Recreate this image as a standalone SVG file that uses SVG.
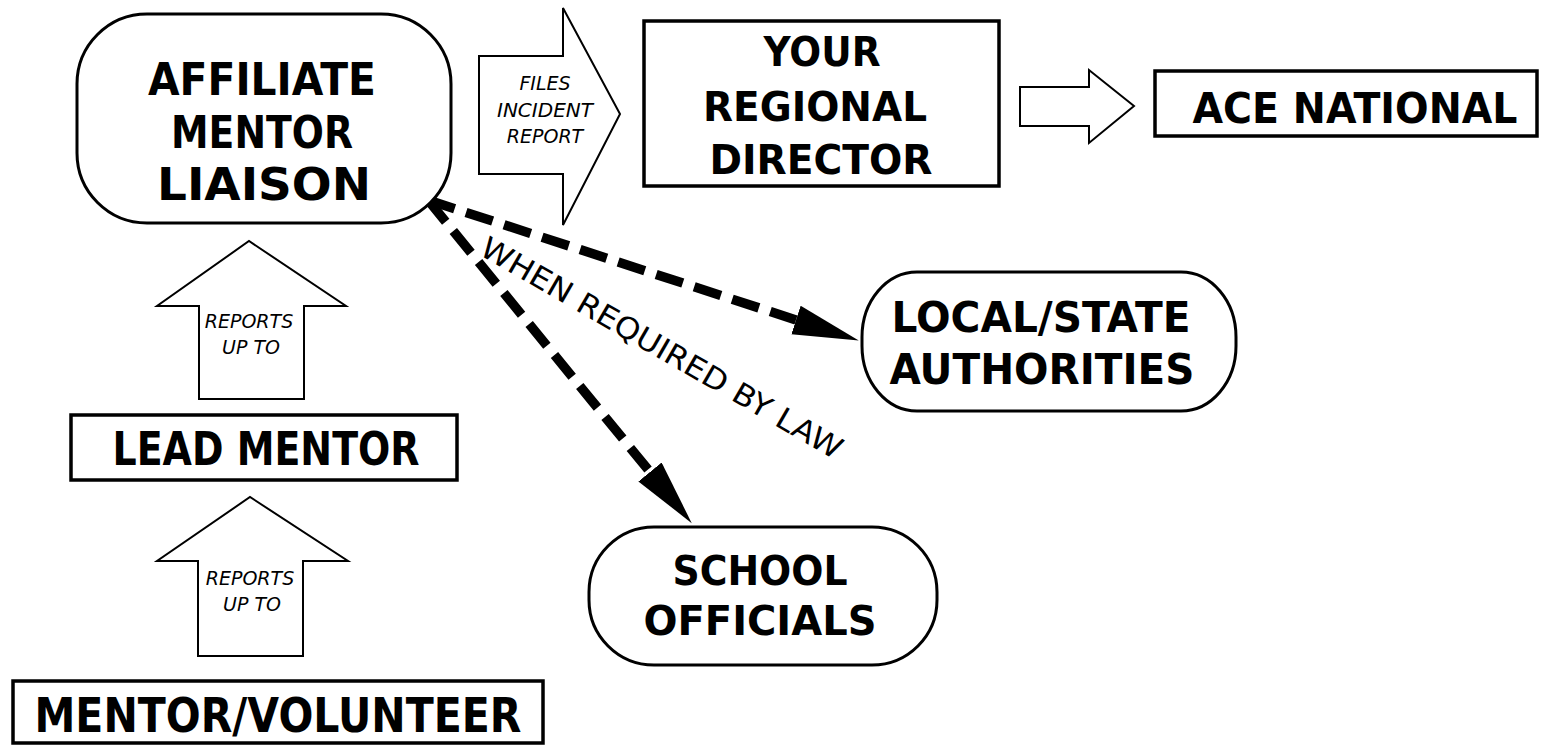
<svg xmlns="http://www.w3.org/2000/svg" width="1541" height="746" viewBox="0 0 1541 746">
<style>
.bg{fill:#fff}
.box{fill:#fff;stroke:#000;stroke-width:3.5}
.rbox{fill:#fff;stroke:#000;stroke-width:3}
.harrow{fill:#fff;stroke:#000;stroke-width:2;stroke-linejoin:miter}
.t{font-family:"DejaVu Sans","Liberation Sans",sans-serif;font-weight:bold;fill:#000;text-anchor:middle}
.it{font-family:"DejaVu Sans","Liberation Sans",sans-serif;font-style:italic;font-size:19px;fill:#000;text-anchor:middle}
.lbl{font-family:"DejaVu Sans","Liberation Sans",sans-serif;font-size:30px;fill:#000}
.dash{fill:none;stroke:#000;stroke-width:9.5;stroke-dasharray:28 12}
</style>
<defs>
<marker id="head" markerUnits="userSpaceOnUse" markerWidth="70" markerHeight="32" refX="0" refY="15" orient="auto">
<path d="M0,0 L66,15 L0,30 Z" fill="#000"/>
</marker>
</defs>
<rect class="bg" x="0" y="0" width="1541" height="746"/>

<g id="connectors">
<polygon id="arrow-files" class="harrow" points="479,56 563,56 563,8 620,114 563,225 563,174 479,174"/>
<text class="it" x="545" y="90">FILES</text>
<text class="it" x="545" y="117" textLength="96" lengthAdjust="spacingAndGlyphs">INCIDENT</text>
<text class="it" x="545" y="143">REPORT</text>
<polygon id="arrow-ace" class="harrow" points="1020,87 1089,87 1089,70 1134,106 1089,143 1089,126 1020,126"/>
<polygon id="arrow-up1" class="harrow" points="199,399 199,306 157,306 249,241 346,306 304,306 304,399"/>
<text class="it" x="249" y="328">REPORTS</text>
<text class="it" x="251" y="354">UP TO</text>
<polygon id="arrow-up2" class="harrow" points="198,656 198,561 157,561 250,497 348,561 303,561 303,656"/>
<text class="it" x="250" y="585">REPORTS</text>
<text class="it" x="252" y="611">UP TO</text>
<path class="dash" d="M428,200 L796,320" marker-end="url(#head)"/>
<path class="dash" d="M428,200 L650,472" marker-end="url(#head)"/>
<text class="lbl" x="478" y="254" transform="rotate(30 478 254)" textLength="412" lengthAdjust="spacingAndGlyphs">WHEN REQUIRED BY LAW</text>
</g>

<g id="node-affiliate">
<rect class="rbox" x="77" y="14" width="374" height="209" rx="70" ry="70"/>
<text class="t" font-size="44" x="262" y="95" textLength="228" lengthAdjust="spacingAndGlyphs">AFFILIATE</text>
<text class="t" font-size="44" x="262" y="148" textLength="182" lengthAdjust="spacingAndGlyphs">MENTOR</text>
<text class="t" font-size="44" x="264" y="200" textLength="214" lengthAdjust="spacingAndGlyphs">LIAISON</text>
</g>

<g id="node-regional">
<rect class="box" x="644" y="21" width="355" height="165"/>
<text class="t" font-size="40" x="822" y="66" textLength="117" lengthAdjust="spacingAndGlyphs">YOUR</text>
<text class="t" font-size="40" x="815" y="121" textLength="224" lengthAdjust="spacingAndGlyphs">REGIONAL</text>
<text class="t" font-size="40" x="821" y="174" textLength="223" lengthAdjust="spacingAndGlyphs">DIRECTOR</text>
</g>

<g id="node-ace">
<rect class="box" x="1155" y="71" width="382" height="65"/>
<text class="t" font-size="42" x="1355" y="123" textLength="325" lengthAdjust="spacingAndGlyphs">ACE NATIONAL</text>
</g>

<g id="node-lead">
<rect class="box" x="71" y="415" width="386" height="65"/>
<text class="t" font-size="46" x="266" y="465" textLength="307" lengthAdjust="spacingAndGlyphs">LEAD MENTOR</text>
</g>

<g id="node-volunteer">
<rect class="box" x="13" y="681" width="530" height="62"/>
<text class="t" font-size="48" x="278" y="732" textLength="487" lengthAdjust="spacingAndGlyphs">MENTOR/VOLUNTEER</text>
</g>

<g id="node-authorities">
<rect class="rbox" x="862" y="272" width="374" height="139" rx="55" ry="65"/>
<text class="t" font-size="42" x="1041" y="332" textLength="299" lengthAdjust="spacingAndGlyphs">LOCAL/STATE</text>
<text class="t" font-size="42" x="1042" y="384" textLength="305" lengthAdjust="spacingAndGlyphs">AUTHORITIES</text>
</g>

<g id="node-school">
<rect class="rbox" x="589" y="527" width="348" height="138" rx="65" ry="65"/>
<text class="t" font-size="40" x="760" y="585" textLength="175" lengthAdjust="spacingAndGlyphs">SCHOOL</text>
<text class="t" font-size="40" x="760" y="635" textLength="233" lengthAdjust="spacingAndGlyphs">OFFICIALS</text>
</g>
</svg>
